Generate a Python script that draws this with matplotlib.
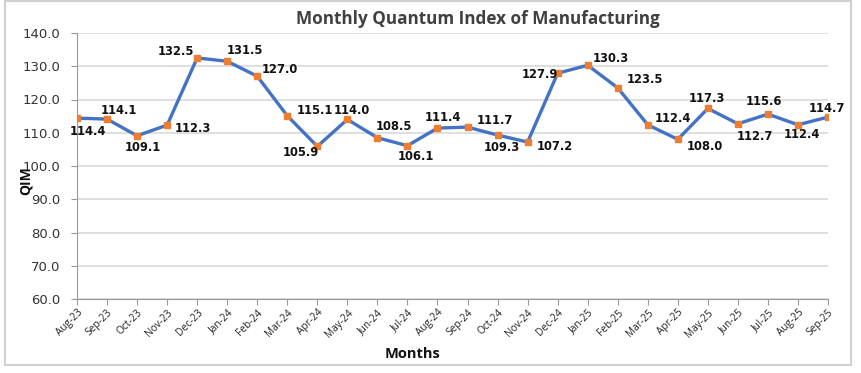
import numpy as np
import matplotlib.pyplot as plt
from matplotlib.patches import Rectangle

plt.rcParams['font.family'] = ['Open Sans', 'DejaVu Sans']

## data
months = ['Aug-23', 'Sep-23', 'Oct-23', 'Nov-23', 'Dec-23', 'Jan-24', 'Feb-24',
          'Mar-24', 'Apr-24', 'May-24', 'Jun-24', 'Jul-24', 'Aug-24', 'Sep-24',
          'Oct-24', 'Nov-24', 'Dec-24', 'Jan-25', 'Feb-25', 'Mar-25', 'Apr-25',
          'May-25', 'Jun-25', 'Jul-25', 'Aug-25', 'Sep-25']
qim = [114.4, 114.1, 109.1, 112.3, 132.5, 131.5, 127.0, 115.1, 105.9, 114.0,
       108.5, 106.1, 111.4, 111.7, 109.3, 107.2, 127.9, 130.3, 123.5, 112.4,
       108.0, 117.3, 112.7, 115.6, 112.4, 114.7]

## label offsets (pixels) so the value labels sit like the original
offsets = [(11, -13), (12, 9), (6, -12), (26, -3), (-21, 6), (18, 11), (23, 7),
           (28, 5), (-17, -6), (4, 9), (16, 11), (8, -11), (5, 11), (27, 7),
           (4, -12), (27, -4), (-18, -1), (23, 7), (27, 8), (25, 6), (27, -7),
           (-1, 10), (17, -13), (-4, 13), (4, -10), (-1, 9)]

fig = plt.figure(figsize=(8.62, 3.73), dpi=100)
ax = fig.add_axes([77/862, 1-299/373, (828-77)/862, (299-33)/373])

x = np.arange(len(months))
ax.plot(x, qim, '-', color='#4472C4', lw=2.4, marker='s', ms=5,
        mfc='#ED7D31', mec='#ED7D31', zorder=3)

for i in range(len(qim)):
    ax.annotate('%.1f' % qim[i], (x[i], qim[i]), xytext=offsets[i],
                textcoords='offset pixels', ha='center', va='center',
                fontsize=8.3, fontweight='bold', color='#111111', zorder=4,
                family='DejaVu Sans')

ax.set_xlim(0, len(months)-1)
ax.set_ylim(60, 140)
ax.set_yticks(np.arange(60, 141, 10))
ax.set_yticklabels(['%.1f' % v for v in np.arange(60, 141, 10)], fontsize=9.5,
                   color='#333333', family='DejaVu Sans')
ax.set_xticks(x)
ax.set_xticklabels(months, rotation=45, ha='right', rotation_mode='anchor',
                   fontsize=7.3, color='#222222')
ax.tick_params(axis='x', length=4, color='#999999', pad=2)
ax.tick_params(axis='y', length=4, color='#999999', pad=8)
ax.grid(axis='y', color='#d9d9d9', lw=1.2)
ax.set_axisbelow(True)
for s in ['top', 'right']:
    ax.spines[s].set_visible(False)
ax.spines['left'].set_color('#999999')
ax.spines['bottom'].set_color('#999999')

fig.text(478/862, 1-19/373, 'Monthly Quantum Index of Manufacturing',
         ha='center', va='center', fontsize=12.3, fontweight='bold', color='#404040')
fig.text(413/862, 1-354/373, 'Months', ha='center', va='center',
         fontsize=10.5, fontweight='bold', color='#111111')
fig.text(26/862, 1-181/373, 'QIM', ha='center', va='center', rotation=90,
         fontsize=10, fontweight='bold', color='#111111')

## light frame round the chart
fig.patches.append(Rectangle((5/862, 1-365/373), 846/862, 364/373,
                             transform=fig.transFigure, fill=False,
                             edgecolor='#d0d0d0', lw=1.5))

plt.savefig('out.png')
